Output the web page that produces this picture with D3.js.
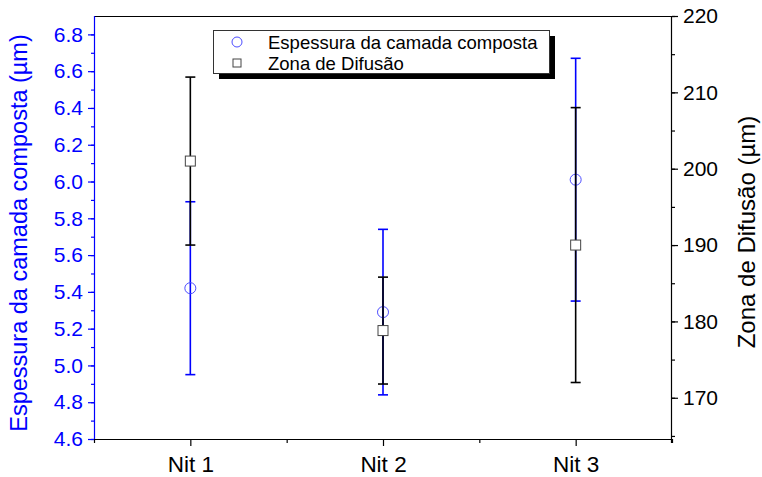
<!DOCTYPE html>
<html>
<head>
<meta charset="utf-8">
<script src="https://cdn.jsdelivr.net/npm/d3@7"></script>
<style>
  body { margin: 0; background: #fff; }
  svg { display: block; font-family: Arial, "Liberation Sans", sans-serif; }
</style>
</head>
<body>
<svg id="chart" width="762" height="477"></svg>
<script>
// Sample categories
const categories = ["Nit 1", "Nit 2", "Nit 3"];
// Compound layer thickness (µm) with standard deviation
const camadaMean = [5.42, 5.29, 6.01];
const camadaErr  = [0.47, 0.45, 0.66];
// Diffusion zone depth (µm) with standard deviation
const difusaoMean = [201, 178.8, 190];
const difusaoErr  = [11, 7, 18];
// Axis ticks
const leftTicks  = [4.6, 4.8, 5.0, 5.2, 5.4, 5.6, 5.8, 6.0, 6.2, 6.4, 6.6, 6.8];
const rightTicks = [170, 180, 190, 200, 210, 220];

const svg = d3.select("#chart");
const m = { left: 94, right: 672, top: 16, bottom: 439 };
const BLUE = "#0000ff";
const FONT = "Arial, 'Liberation Sans', sans-serif";

const x = d3.scaleLinear().domain([0.5, 3.5]).range([m.left, m.right]);
const yL = d3.scaleLinear().domain([4.6, 6.9]).range([m.bottom, m.top]);
const yR = d3.scaleLinear().domain([164.6, 220]).range([m.bottom, m.top]);

// Frame top line
svg.append("line").attr("x1", m.left).attr("x2", m.right)
  .attr("y1", m.top + 0.5).attr("y2", m.top + 0.5)
  .attr("stroke", "#000").attr("stroke-width", 1.2);

// Bottom axis: minor ticks at boundaries, major at categories
const gx = svg.append("g").attr("transform", `translate(0,${m.bottom})`);
gx.call(d3.axisBottom(x).tickValues([0.5, 1.5, 2.5, 3.5]).tickSize(4).tickFormat(""));
gx.call(g => g.select(".domain").remove());
const gxMaj = svg.append("g").attr("transform", `translate(0,${m.bottom})`)
  .call(d3.axisBottom(x).tickValues([1, 2, 3]).tickSize(7).tickPadding(10)
    .tickFormat(d => categories[d - 1]));
gxMaj.select(".domain").remove();
gxMaj.selectAll("text").attr("font-size", 22.5).attr("fill", "#000").attr("font-family", FONT);
svg.selectAll("g line").attr("stroke", "#000").attr("stroke-width", 1.2);
svg.append("line").attr("x1", m.left).attr("x2", m.right)
  .attr("y1", m.bottom + 0.5).attr("y2", m.bottom + 0.5)
  .attr("stroke", "#000").attr("stroke-width", 1.2);

// Left axis (blue)
const leftMinor = d3.range(46, 69, 1).map(v => v / 10);
const gyLm = svg.append("g").attr("transform", `translate(${m.left},0)`)
  .call(d3.axisLeft(yL).tickValues(leftMinor).tickSize(3).tickFormat(""));
gyLm.select(".domain").remove();
gyLm.selectAll("line").attr("stroke", BLUE).attr("stroke-width", 1.2);
const gyL = svg.append("g").attr("transform", `translate(${m.left},0)`)
  .call(d3.axisLeft(yL).tickValues(leftTicks).tickSize(6).tickPadding(5)
    .tickFormat(d3.format(".1f")));
gyL.select(".domain").remove();
gyL.selectAll("line").attr("stroke", BLUE).attr("stroke-width", 1.2);
gyL.selectAll("text").attr("fill", BLUE).attr("font-size", 21).attr("font-family", FONT);
svg.append("line").attr("x1", m.left + 0.5).attr("x2", m.left + 0.5)
  .attr("y1", m.top).attr("y2", m.bottom)
  .attr("stroke", BLUE).attr("stroke-width", 1.2);

// Right axis (black)
const rightMinor = d3.range(165, 221, 5);
const gyRm = svg.append("g").attr("transform", `translate(${m.right},0)`)
  .call(d3.axisRight(yR).tickValues(rightMinor).tickSize(3).tickFormat(""));
gyRm.select(".domain").remove();
gyRm.selectAll("line").attr("stroke", "#000").attr("stroke-width", 1.2);
const gyR = svg.append("g").attr("transform", `translate(${m.right},0)`)
  .call(d3.axisRight(yR).tickValues(rightTicks).tickSize(6).tickPadding(5)
    .tickFormat(d3.format("d")));
gyR.select(".domain").remove();
gyR.selectAll("line").attr("stroke", "#000").attr("stroke-width", 1.2);
gyR.selectAll("text").attr("fill", "#000").attr("font-size", 21).attr("font-family", FONT);
svg.append("line").attr("x1", m.right - 0.5).attr("x2", m.right - 0.5)
  .attr("y1", m.top).attr("y2", m.bottom + 4)
  .attr("stroke", "#000").attr("stroke-width", 1.2);

// Axis titles
svg.append("text")
  .attr("transform", `translate(27,233) rotate(-90)`)
  .attr("text-anchor", "middle").attr("fill", BLUE).attr("font-size", 23.5)
  .text("Espessura da camada composta (µm)");
svg.append("text")
  .attr("transform", `translate(755,232) rotate(-90)`)
  .attr("text-anchor", "middle").attr("fill", "#000").attr("font-size", 24)
  .text("Zona de Difusão (µm)");

// Error bars helper
function errorBars(means, errs, y, color) {
  const g = svg.append("g").attr("stroke", color).attr("stroke-width", 1.6).attr("fill", "none");
  means.forEach((v, i) => {
    const cx = x(i + 1);
    const top = y(v + errs[i]), bot = y(v - errs[i]);
    g.append("line").attr("x1", cx).attr("x2", cx).attr("y1", top).attr("y2", bot);
    g.append("line").attr("x1", cx - 5).attr("x2", cx + 5).attr("y1", top).attr("y2", top);
    g.append("line").attr("x1", cx - 5).attr("x2", cx + 5).attr("y1", bot).attr("y2", bot);
  });
}

// Compound layer series
errorBars(camadaMean, camadaErr, yL, BLUE);
svg.append("g").selectAll("circle").data(camadaMean).join("circle")
  .attr("cx", (d, i) => x(i + 1)).attr("cy", d => yL(d)).attr("r", 5.5)
  .attr("fill", "none").attr("stroke", "#4d4dff").attr("stroke-width", 1);

// Diffusion zone series
errorBars(difusaoMean, difusaoErr, yR, "#000");
svg.append("g").selectAll("rect").data(difusaoMean).join("rect")
  .attr("x", (d, i) => x(i + 1) - 5).attr("y", d => yR(d) - 5)
  .attr("width", 10).attr("height", 10)
  .attr("fill", "#fff").attr("stroke", "#444").attr("stroke-width", 1);

// Legend with drop shadow
const lg = svg.append("g");
lg.append("rect").attr("x", 219).attr("y", 36).attr("width", 336).attr("height", 43).attr("fill", "#000");
lg.append("rect").attr("x", 213.5).attr("y", 30.5).attr("width", 336).attr("height", 43)
  .attr("fill", "#fff").attr("stroke", "#333").attr("stroke-width", 1);
lg.append("circle").attr("cx", 237).attr("cy", 42).attr("r", 5)
  .attr("fill", "none").attr("stroke", "#4d4dff").attr("stroke-width", 1);
lg.append("rect").attr("x", 233).attr("y", 59).attr("width", 8).attr("height", 8)
  .attr("fill", "#fff").attr("stroke", "#444").attr("stroke-width", 1);
lg.append("text").attr("x", 268).attr("y", 49).attr("font-size", 18.5).attr("fill", "#000")
  .text("Espessura da camada composta");
lg.append("text").attr("x", 268).attr("y", 70).attr("font-size", 18.5).attr("fill", "#000")
  .text("Zona de Difusão");
</script>
</body>
</html>
